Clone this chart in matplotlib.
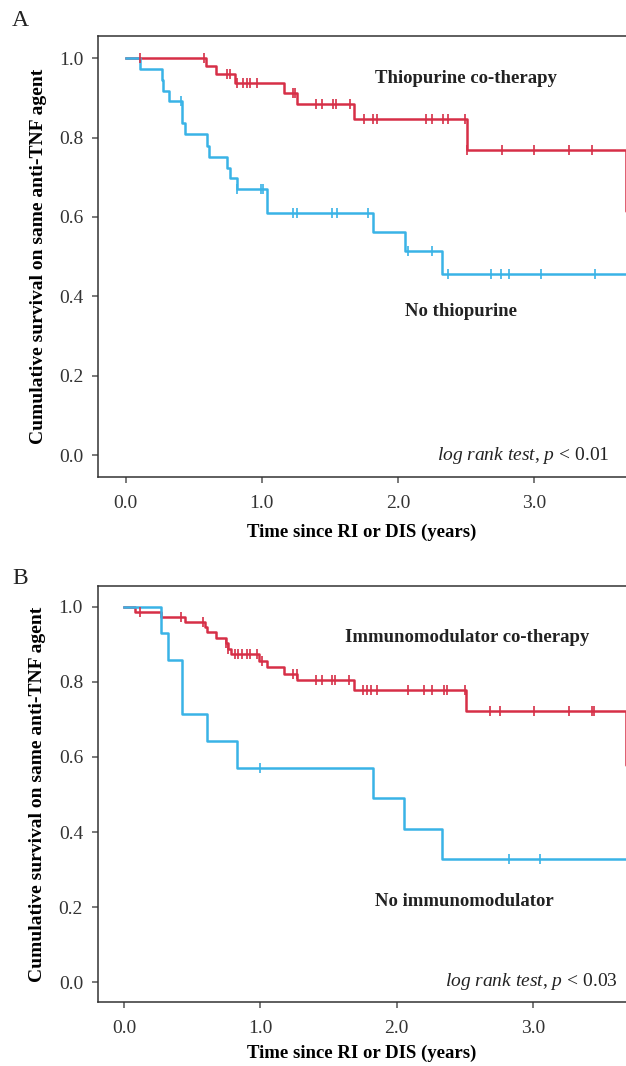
import numpy as np
import matplotlib
matplotlib.use("Agg")
import matplotlib.pyplot as plt

RED = "#D62F47"
BLUE = "#39B3E6"
INK = "#222222"

# ---- Panel A: thiopurine ------------------------------------------------
a_red_t = [0.590, 0.663, 0.803, 1.165, 1.261, 1.680, 2.505, 3.674]
a_red_s = [0.981, 0.960, 0.937, 0.912, 0.885, 0.846, 0.769, 0.614]
a_red_cens = [0.105, 0.575, 0.747, 0.766, 0.820, 0.864, 0.889, 0.913, 0.967,
              1.227, 1.244, 1.398, 1.445, 1.525, 1.545, 1.648, 1.751, 1.819,
              1.844, 2.206, 2.248, 2.334, 2.370, 2.493, 2.510, 2.767, 3.002,
              3.257, 3.428]

a_blue_t = [0.105, 0.265, 0.272, 0.318, 0.411, 0.436, 0.595, 0.612, 0.742,
            0.766, 0.820, 1.036, 1.819, 2.052, 2.326]
a_blue_s = [0.973, 0.944, 0.918, 0.891, 0.836, 0.809, 0.779, 0.752, 0.724,
            0.698, 0.670, 0.609, 0.562, 0.514, 0.456]
a_blue_cens = [0.406, 0.820, 0.992, 1.011, 1.227, 1.256, 1.518, 1.550, 1.783,
               2.076, 2.248, 2.366, 2.682, 2.758, 2.817, 3.049, 3.448]

# ---- Panel B: immunomodulator -------------------------------------------
b_red_t = [0.080, 0.271, 0.448, 0.594, 0.611, 0.675, 0.748, 0.765, 0.783,
           0.993, 1.047, 1.176, 1.271, 1.687, 2.509, 3.681]
b_red_s = [0.985, 0.973, 0.958, 0.945, 0.932, 0.916, 0.903, 0.887, 0.873,
           0.856, 0.839, 0.820, 0.805, 0.778, 0.722, 0.579]
b_red_cens = [0.117, 0.416, 0.582, 0.748, 0.765, 0.814, 0.839, 0.863, 0.900,
              0.924, 0.974, 1.010, 1.237, 1.266, 1.409, 1.450, 1.524, 1.548,
              1.653, 1.751, 1.781, 1.810, 1.854, 2.086, 2.203, 2.257, 2.348,
              2.372, 2.502, 2.685, 2.759, 3.010, 3.265, 3.436, 3.449]

b_blue_t = [0.271, 0.321, 0.423, 0.607, 0.827, 1.825, 2.057, 2.331]
b_blue_s = [0.929, 0.857, 0.714, 0.643, 0.571, 0.490, 0.408, 0.327]
b_blue_cens = [0.998, 2.825, 3.052]

ticks = [0.0, 1.0, 2.0, 3.0]
yticks = [0.0, 0.2, 0.4, 0.6, 0.8, 1.0]

plt.rcParams.update({
    "font.family": "Liberation Serif", "text.color": INK,
    "mathtext.fontset": "custom", "mathtext.rm": "Liberation Serif",
    "mathtext.it": "Liberation Serif:italic",
})


def km(ax, times, surv, cens, color, tmax=3.8):
    x = [0.0] + list(times) + [tmax]
    y = [1.0] + list(surv) + [surv[-1]]
    ax.step(x, y, where="post", color=color, lw=1.8, zorder=3)
    idx = np.searchsorted(times, cens, side="right")
    levels = np.concatenate([[1.0], surv])[idx]
    ax.plot(cens, levels, ls="none", marker="|", ms=7.5, mew=1.2, color=color, zorder=4)


def style(ax, xlim, ylim, xpad):
    ax.set_xlim(*xlim)
    ax.set_ylim(*ylim)
    ax.spines["right"].set_visible(False)
    for sp in ["left", "top", "bottom"]:
        ax.spines[sp].set_color("#333333")
        ax.spines[sp].set_linewidth(1.1)
    ax.set_xticks(ticks)
    ax.set_xticklabels([f"{t:.1f}" for t in ticks])
    ax.set_yticks(yticks)
    ax.set_yticklabels([f"{t:.1f}" for t in yticks])
    ax.tick_params(direction="out", length=4.5, width=1.1, color="#555555",
                   labelsize=14, labelcolor="#333333", pad=6)
    ax.tick_params(axis="x", pad=8)
    ax.set_xlabel("Time since RI or DIS (years)", fontsize=13.5, fontweight="bold",
                  labelpad=xpad)
    ax.set_ylabel("Cumulative survival on same anti-TNF agent", fontsize=14,
                  fontweight="bold", labelpad=9)


fig = plt.figure(figsize=(6.26, 10.66), dpi=100)
axA = fig.add_axes([0.157, 0.5523, 0.843, 0.414])
axB = fig.add_axes([0.156, 0.0598, 0.844, 0.3905])

km(axA, a_red_t, a_red_s, a_red_cens, RED)
km(axA, a_blue_t, a_blue_s, a_blue_cens, BLUE)
style(axA, (-0.201, 3.676), (-0.0557, 1.056), 9)
axA.text(1.832, 0.950, "Thiopurine co-therapy", fontsize=13.5, fontweight="bold", va="center")
axA.text(2.052, 0.361, "No thiopurine", fontsize=13.5, fontweight="bold", va="center")
axA.text(3.558, 0.0, r"$\mathit{log\ rank\ test}$, $\mathit{p}$ < 0.01", fontsize=14,
         ha="right", va="center")

km(axB, b_red_t, b_red_s, b_red_cens, RED)
km(axB, b_blue_t, b_blue_s, b_blue_cens, BLUE)
style(axB, (-0.193, 3.683), (-0.053, 1.055), 6)
axB.text(1.621, 0.919, "Immunomodulator co-therapy", fontsize=13.5, fontweight="bold", va="center")
axB.text(1.842, 0.216, "No immunomodulator", fontsize=13.5, fontweight="bold", va="center")
axB.text(3.624, 0.003, r"$\mathit{log\ rank\ test}$, $\mathit{p}$ < 0.03", fontsize=14,
         ha="right", va="center")

fig.text(12 / 626, 1 - 20 / 1066, "A", fontsize=17, va="center", ha="left")
fig.text(12 / 626, 1 - 578 / 1066, "B", fontsize=17, va="center", ha="left")

fig.savefig("out.png", dpi=100, facecolor="white")
